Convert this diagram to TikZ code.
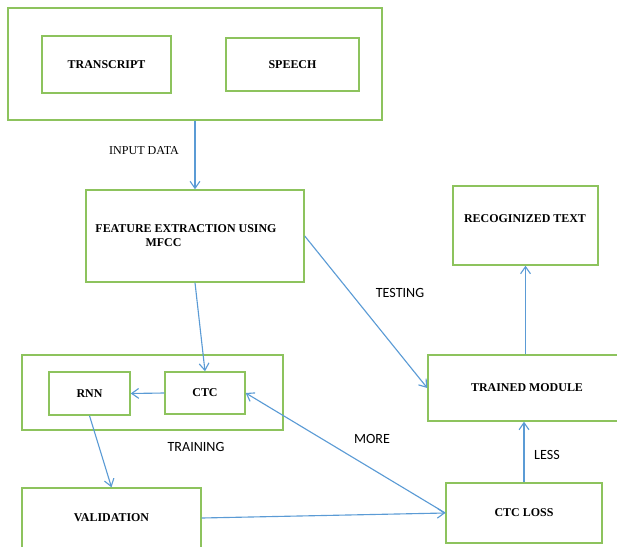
\documentclass[tikz,border=0pt]{standalone}
\usepackage{fontspec}
\setmainfont{Liberation Serif}
\newfontfamily\lblfont{Carlito}
\definecolor{Boxgreen}{RGB}{141,195,93}
\definecolor{Arrblue}{RGB}{91,155,213}
\usetikzlibrary{calc, positioning, arrows.meta}

\begin{document}
\begin{tikzpicture}[
  x=0.025cm, y=-0.025cm,
  font=\fontsize{8.5}{10}\selectfont,
  blk/.style={draw=Boxgreen, line width=1pt, inner sep=0pt,
              align=center, font=\fontsize{8.5}{10}\selectfont\bfseries},
  txt/.style={align=left, font=\fontsize{8.5}{10}\selectfont\bfseries},
  arr/.style={-{Straight Barb[length=5pt,width=7pt]}, draw=Arrblue, line width=0.8pt},
  lbl/.style={font=\fontsize{10}{12}\selectfont\lblfont},
  lblserif/.style={font=\fontsize{8.6}{10}\selectfont}
]
\useasboundingbox (0,0) rectangle (617,546);
\clip (0,0) rectangle (617,546);

% input block
\node[blk, minimum width=9.35cm,  minimum height=2.8cm]   (inputbox)   at (195,64)    {};
\node[blk, minimum width=3.225cm, minimum height=1.425cm] (transcript) at (106.5,64.5) {TRANSCRIPT};
\node[blk, minimum width=3.325cm, minimum height=1.325cm] (speech)     at (292.5,64.5) {SPEECH};

% feature extraction
\node[blk, minimum width=5.45cm, minimum height=2.3cm] (feature) at (195,236) {};
\node[txt] (featuretxt) at (186,236) {FEATURE EXTRACTION USING\\\hspace{4.2em}MFCC};

% training block
\node[blk, minimum width=6.525cm, minimum height=1.875cm] (training) at (152.5,392.5) {};
\node[blk, minimum width=2.025cm, minimum height=1.075cm] (rnn)      at (89.5,393.5)  {RNN};
\node[blk, minimum width=2.0cm,   minimum height=1.05cm]  (ctc)      at (205,393)     {CTC};

\node[blk, minimum width=4.475cm, minimum height=1.5cm] (validation) at (111.5,518) {VALIDATION};
\node[blk, minimum width=3.9cm,   minimum height=1.5cm] (ctcloss)    at (524,513)   {CTC LOSS};
\node[blk, minimum width=4.95cm,  minimum height=1.65cm] (trained)   at (527,388)   {TRAINED MODULE};

\node[blk, minimum width=3.625cm, minimum height=1.975cm] (recognized) at (525.5,225.5) {};
\node[txt] (recogtxt) at (525,219) {RECOGINIZED TEXT};

% connectors
\draw[arr] (inputbox.south) -- (feature.north);
\draw[arr] (feature.south)  -- (ctc.north);
\draw[arr] (ctc.west)       -- (rnn.east);
\draw[arr] (rnn.south)      -- (validation.north);
\draw[arr] (validation.east) -- (ctcloss.west);
\draw[arr] (ctcloss.west)   -- (ctc.east);
\draw[arr] (ctcloss.north)  -- (ctcloss.north |- trained.south);
\draw[arr] (recognized.south |- trained.north) -- (recognized.south);
\draw[arr] (feature.east)   -- (trained.west);

% labels
\node[lblserif] (inputlbl) at (144,151) {INPUT DATA};
\node[lbl] (testlbl)  at (400,293) {TESTING};
\node[lbl] (trainlbl) at (196,447) {TRAINING};
\node[lbl] (morelbl)  at (372,439) {MORE};
\node[lbl] (lesslbl)  at (547,455) {LESS};
\end{tikzpicture}
\end{document}
